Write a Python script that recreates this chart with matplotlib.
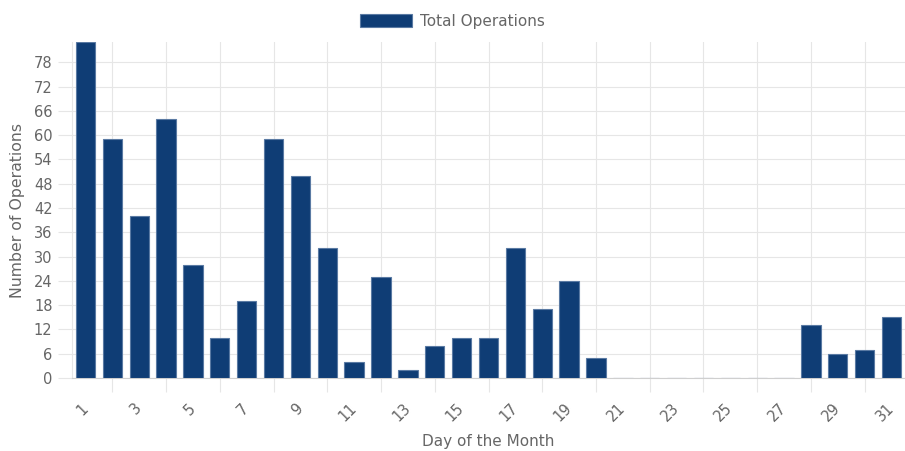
import matplotlib.pyplot as plt
import numpy as np

# data
days = list(range(1, 32))
operations = [83, 59, 40, 64, 28, 10, 19, 59, 50, 32, 4, 25, 2, 8, 10, 10,
              32, 17, 24, 5, 0, 0, 0, 0, 0, 0, 0, 13, 6, 7, 15]
y_ticks = list(range(0, 79, 6))

bar_color = '#0f3d75'
edge_color = '#5a7aa3'
text_color = '#666666'
grid_color = '#e6e6e6'

fig = plt.figure(figsize=(9.05, 4.51), dpi=100)
ax = fig.add_axes([72 / 905, 1 - 378 / 451, 833 / 905, (378 - 42) / 451])

x = np.arange(len(days))
ax.bar(x, operations, width=0.72, color=bar_color, edgecolor=edge_color,
       linewidth=0.8, label='Total Operations', zorder=3)

ax.set_xlim(-0.5, len(days) - 0.5)
ax.set_ylim(0, max(operations))

# labels on odd days, grid lines half way between shown labels
ax.set_xticks(x[::2])
ax.set_xticklabels([str(d) for d in days[::2]], rotation=45,
                   ha='right', va='center', rotation_mode='anchor')
ax.set_xticks(x[1::2], minor=True)
ax.tick_params(axis='x', which='major', length=0, pad=20,
               labelsize=10.5, labelcolor=text_color)
ax.tick_params(axis='x', which='minor', length=10, color=grid_color, width=0.8)
ax.grid(axis='x', which='minor', color=grid_color, linewidth=0.8, zorder=0)

ax.set_yticks(y_ticks)
ax.tick_params(axis='y', length=10, color=grid_color, width=0.8, pad=4,
               labelsize=10.5, labelcolor=text_color)
ax.grid(axis='y', which='major', color=grid_color, linewidth=0.8, zorder=0)

for side in ['top', 'right']:
    ax.spines[side].set_visible(False)
ax.spines['left'].set_color(grid_color)
ax.spines['bottom'].set_color('#cfcfcf')
ax.set_axisbelow(True)

ax.set_xlabel('Day of the Month', fontsize=11, color=text_color, labelpad=7)
ax.set_ylabel('Number of Operations', fontsize=11.3, color=text_color, labelpad=6)

fig.legend(loc='upper center', bbox_to_anchor=(0.5, 1.0), frameon=False,
           handlelength=3.4, handleheight=1.0, fontsize=11, handletextpad=0.55,
           labelcolor=text_color, borderaxespad=0.5)

plt.savefig('out.png', dpi=100)
plt.close()
